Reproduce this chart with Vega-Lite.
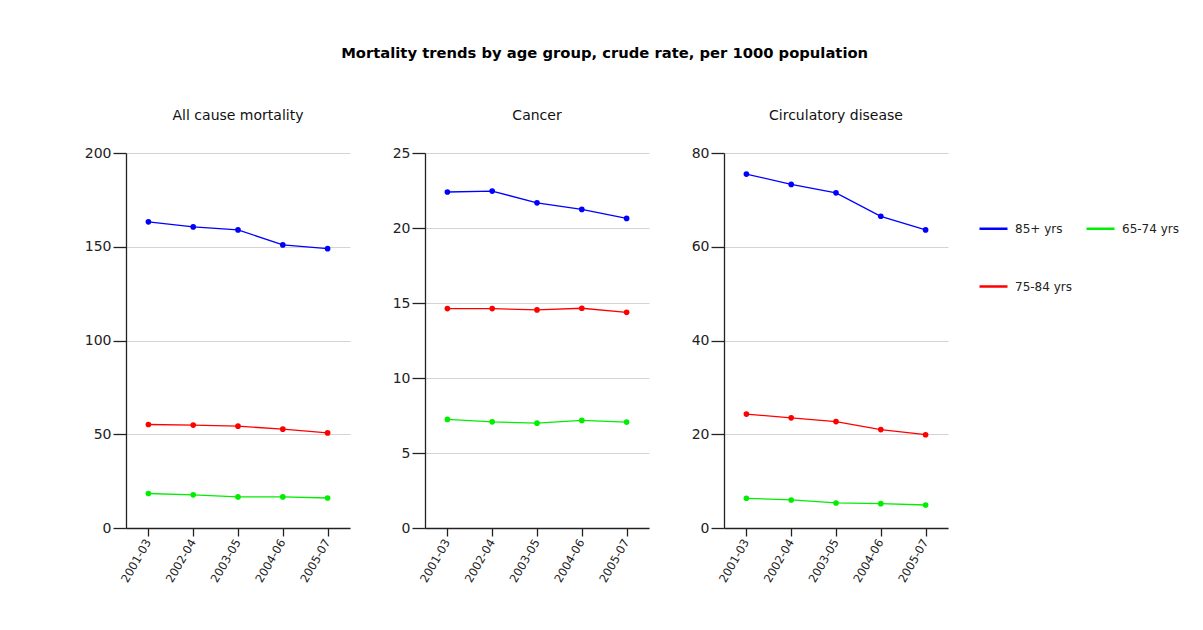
{
  "$schema": "https://vega.github.io/schema/vega-lite/v6.json",
  "background": "white",
  "padding": {"left": 84, "top": 46, "right": 5, "bottom": 5},
  "title": {"text": "Mortality trends by age group, crude rate, per 1000 population", "font": "DejaVu Sans", "fontSize": 14.75, "fontWeight": "bold", "color": "#000", "anchor": "middle", "offset": 48, "dx": -27},
  "datasets": {
    "d": [
      {"panel": "All cause mortality", "period": "2001-03", "group": "85+  yrs", "value": 163.3},
      {"panel": "All cause mortality", "period": "2002-04", "group": "85+  yrs", "value": 160.6},
      {"panel": "All cause mortality", "period": "2003-05", "group": "85+  yrs", "value": 159.0},
      {"panel": "All cause mortality", "period": "2004-06", "group": "85+  yrs", "value": 151.0},
      {"panel": "All cause mortality", "period": "2005-07", "group": "85+  yrs", "value": 149.0},
      {"panel": "All cause mortality", "period": "2001-03", "group": "75-84 yrs", "value": 55.2},
      {"panel": "All cause mortality", "period": "2002-04", "group": "75-84 yrs", "value": 54.9},
      {"panel": "All cause mortality", "period": "2003-05", "group": "75-84 yrs", "value": 54.3},
      {"panel": "All cause mortality", "period": "2004-06", "group": "75-84 yrs", "value": 52.7},
      {"panel": "All cause mortality", "period": "2005-07", "group": "75-84 yrs", "value": 50.7},
      {"panel": "All cause mortality", "period": "2001-03", "group": "65-74 yrs", "value": 18.4},
      {"panel": "All cause mortality", "period": "2002-04", "group": "65-74 yrs", "value": 17.7},
      {"panel": "All cause mortality", "period": "2003-05", "group": "65-74 yrs", "value": 16.6},
      {"panel": "All cause mortality", "period": "2004-06", "group": "65-74 yrs", "value": 16.6},
      {"panel": "All cause mortality", "period": "2005-07", "group": "65-74 yrs", "value": 16.0},
      {"panel": "Cancer", "period": "2001-03", "group": "85+  yrs", "value": 22.40},
      {"panel": "Cancer", "period": "2002-04", "group": "85+  yrs", "value": 22.46},
      {"panel": "Cancer", "period": "2003-05", "group": "85+  yrs", "value": 21.68},
      {"panel": "Cancer", "period": "2004-06", "group": "85+  yrs", "value": 21.24},
      {"panel": "Cancer", "period": "2005-07", "group": "85+  yrs", "value": 20.64},
      {"panel": "Cancer", "period": "2001-03", "group": "75-84 yrs", "value": 14.63},
      {"panel": "Cancer", "period": "2002-04", "group": "75-84 yrs", "value": 14.63},
      {"panel": "Cancer", "period": "2003-05", "group": "75-84 yrs", "value": 14.54},
      {"panel": "Cancer", "period": "2004-06", "group": "75-84 yrs", "value": 14.65},
      {"panel": "Cancer", "period": "2005-07", "group": "75-84 yrs", "value": 14.38},
      {"panel": "Cancer", "period": "2001-03", "group": "65-74 yrs", "value": 7.24},
      {"panel": "Cancer", "period": "2002-04", "group": "65-74 yrs", "value": 7.08},
      {"panel": "Cancer", "period": "2003-05", "group": "65-74 yrs", "value": 6.99},
      {"panel": "Cancer", "period": "2004-06", "group": "65-74 yrs", "value": 7.17},
      {"panel": "Cancer", "period": "2005-07", "group": "65-74 yrs", "value": 7.06},
      {"panel": "Circulatory disease", "period": "2001-03", "group": "85+  yrs", "value": 75.5},
      {"panel": "Circulatory disease", "period": "2002-04", "group": "85+  yrs", "value": 73.3},
      {"panel": "Circulatory disease", "period": "2003-05", "group": "85+  yrs", "value": 71.5},
      {"panel": "Circulatory disease", "period": "2004-06", "group": "85+  yrs", "value": 66.5},
      {"panel": "Circulatory disease", "period": "2005-07", "group": "85+  yrs", "value": 63.6},
      {"panel": "Circulatory disease", "period": "2001-03", "group": "75-84 yrs", "value": 24.3},
      {"panel": "Circulatory disease", "period": "2002-04", "group": "75-84 yrs", "value": 23.5},
      {"panel": "Circulatory disease", "period": "2003-05", "group": "75-84 yrs", "value": 22.7},
      {"panel": "Circulatory disease", "period": "2004-06", "group": "75-84 yrs", "value": 21.0},
      {"panel": "Circulatory disease", "period": "2005-07", "group": "75-84 yrs", "value": 19.9},
      {"panel": "Circulatory disease", "period": "2001-03", "group": "65-74 yrs", "value": 6.34},
      {"panel": "Circulatory disease", "period": "2002-04", "group": "65-74 yrs", "value": 5.98},
      {"panel": "Circulatory disease", "period": "2003-05", "group": "65-74 yrs", "value": 5.34},
      {"panel": "Circulatory disease", "period": "2004-06", "group": "65-74 yrs", "value": 5.2},
      {"panel": "Circulatory disease", "period": "2005-07", "group": "65-74 yrs", "value": 4.91}
    ]
  },
  "data": {"name": "d"},
  "bounds": "flush",
  "spacing": 75,
  "config": {
    "view": {"stroke": null},
    "font": "DejaVu Sans",
    "title": {"fontSize": 14, "fontWeight": "normal", "color": "#111", "offset": 23, "font": "DejaVu Sans"},
    "axis": {"labelFont": "DejaVu Sans", "labelColor": "#222", "domainColor": "#222", "tickColor": "#222", "gridColor": "#d4d4d4", "domainWidth": 1.3, "tickWidth": 1.3, "title": null},
    "axisX": {"labelAngle": -60, "labelAlign": "right", "labelBaseline": "middle", "tickSize": 8, "labelFontSize": 11.5, "labelPadding": 4, "grid": false},
    "axisY": {"tickSize": 13, "labelFontSize": 14, "labelPadding": 2, "grid": true}
  },
  "resolve": {"scale": {"y": "independent"}},
  "hconcat": [
    {
      "title": "All cause mortality",
      "width": 224, "height": 375,
      "transform": [{"filter": "datum.panel === 'All cause mortality'"}],
      "mark": {"type": "line", "strokeWidth": 1.3, "point": {"filled": true, "size": 32}},
      "encoding": {
        "x": {"field": "period", "type": "ordinal", "scale": {"type": "point", "padding": 0.5}},
        "y": {"field": "value", "type": "quantitative", "scale": {"domain": [0, 200]}, "axis": {"values": [0, 50, 100, 150, 200]}},
        "color": {"field": "group", "type": "nominal", "scale": {"domain": ["85+  yrs", "75-84 yrs", "65-74 yrs"], "range": ["#0000ff", "#ff0000", "#00ee00"]},
          "legend": {"title": null, "orient": "none", "legendX": 852, "legendY": 60, "columns": 2, "symbolType": "stroke", "symbolSize": 784, "symbolStrokeWidth": 2.5, "labelFontSize": 12, "labelColor": "#222", "labelFont": "DejaVu Sans", "rowPadding": 36, "columnPadding": 9, "labelOffset": 6}}
      }
    },
    {
      "title": "Cancer",
      "width": 224, "height": 375,
      "transform": [{"filter": "datum.panel === 'Cancer'"}],
      "mark": {"type": "line", "strokeWidth": 1.3, "point": {"filled": true, "size": 32}},
      "encoding": {
        "x": {"field": "period", "type": "ordinal", "scale": {"type": "point", "padding": 0.5}},
        "y": {"field": "value", "type": "quantitative", "scale": {"domain": [0, 25]}, "axis": {"values": [0, 5, 10, 15, 20, 25]}},
        "color": {"field": "group", "type": "nominal"}
      }
    },
    {
      "title": "Circulatory disease",
      "width": 224, "height": 375,
      "transform": [{"filter": "datum.panel === 'Circulatory disease'"}],
      "mark": {"type": "line", "strokeWidth": 1.3, "point": {"filled": true, "size": 32}},
      "encoding": {
        "x": {"field": "period", "type": "ordinal", "scale": {"type": "point", "padding": 0.5}},
        "y": {"field": "value", "type": "quantitative", "scale": {"domain": [0, 80]}, "axis": {"values": [0, 20, 40, 60, 80]}},
        "color": {"field": "group", "type": "nominal"}
      }
    }
  ]
}
